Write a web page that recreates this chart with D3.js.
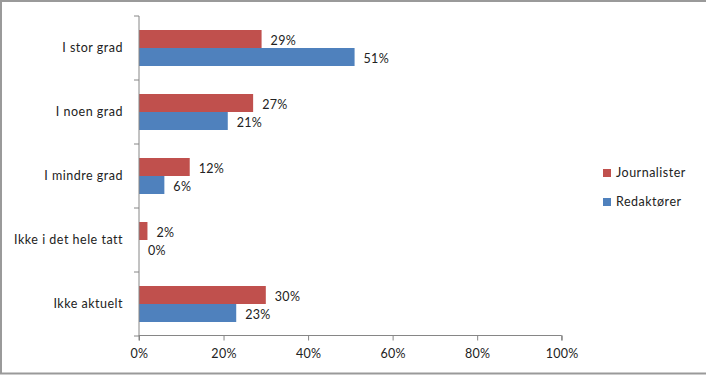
<!DOCTYPE html>
<html><head><meta charset="utf-8">
<script src="https://cdn.jsdelivr.net/npm/d3@7"></script>
<style>
body{margin:0;background:#fff;}
svg text{font-family:Lato,"Open Sans",sans-serif;fill:#222;}
</style></head>
<body><svg id="c" width="706" height="376"></svg>
<script>
const categories = ["I stor grad","I noen grad","I mindre grad","Ikke i det hele tatt","Ikke aktuelt"];
const journalister = [29,27,12,2,30];
const redaktorer = [51,21,6,0,23];
const seriesNames = ["Journalister","Redaktører"];
const seriesColors = ["#C0504D","#4F81BD"];
const xTicks = [0,20,40,60,80,100];

const svg = d3.select("#c");
// frame
svg.append("line").attr("x1",0).attr("x2",706).attr("y1",1).attr("y2",1).attr("stroke","#9a9a9a").attr("stroke-width",2);
svg.append("line").attr("x1",1).attr("x2",1).attr("y1",0).attr("y2",374).attr("stroke","#9a9a9a").attr("stroke-width",2);
svg.append("line").attr("x1",0).attr("x2",706).attr("y1",373.5).attr("y2",373.5).attr("stroke","#9a9a9a").attr("stroke-width",2);

const x = d3.scaleLinear().domain([0,100]).range([139,561.7]);
const y = d3.scaleBand().domain(categories).range([16,336]).paddingInner(0.4375).paddingOuter(0.21875);
const y2 = d3.scaleBand().domain(seriesNames).range([0,y.bandwidth()]);

const g = svg.append("g");
const data = [journalister, redaktorer];
seriesNames.forEach((s,si)=>{
  g.selectAll(".b"+si).data(categories).enter().append("rect")
    .attr("x",x(0))
    .attr("y",c=>y(c)+y2(s))
    .attr("width",(c,i)=>x(data[si][i])-x(0))
    .attr("height",y2.bandwidth())
    .attr("fill",seriesColors[si]);
  g.selectAll(".l"+si).data(categories).enter().append("text")
    .attr("x",(c,i)=>x(data[si][i])+9)
    .attr("y",c=>y(c)+y2(s)+y2.bandwidth()/2+1.5)
    .attr("dy","0.35em")
    .attr("font-size",12.5)
    .attr("letter-spacing","0.3px")
    .text((c,i)=>data[si][i]+"%");
});

// y axis
const yAxisG = svg.append("g").attr("transform",`translate(${x(0)},0)`);
yAxisG.append("line").attr("x1",0).attr("x2",0).attr("y1",16).attr("y2",336).attr("stroke","#868686");
const tickYs = d3.range(categories.length+1).map(i=>16+i*y.step());
yAxisG.selectAll(".yt").data(tickYs).enter().append("line")
  .attr("x1",-5).attr("x2",0).attr("y1",d=>d).attr("y2",d=>d).attr("stroke","#868686");
yAxisG.selectAll(".yl").data(categories).enter().append("text")
  .attr("x",-16).attr("y",c=>y(c)+y.bandwidth()/2).attr("dy","0.35em")
  .attr("text-anchor","end").attr("font-size",12.5).attr("letter-spacing","0.5px").text(c=>c);

// x axis
const xAxis = d3.axisBottom(x).tickValues(xTicks).tickFormat(d=>d+"%").tickSize(5).tickPadding(9);
const xg = svg.append("g").attr("transform","translate(0,335.5)").call(xAxis);
xg.select(".domain").attr("stroke","#868686").attr("d",`M${x(0)},5V0H${x(100)}V5`);
xg.selectAll(".tick line").attr("stroke","#868686");
xg.selectAll(".tick text").attr("font-size",12.5).attr("fill","#222").attr("letter-spacing","0.3px").attr("font-family","Lato,'Open Sans',sans-serif");

// legend
const leg = svg.append("g");
seriesNames.forEach((s,i)=>{
  const ly = 173 + i*29;
  leg.append("rect").attr("x",603).attr("y",ly-4).attr("width",8).attr("height",8).attr("fill",seriesColors[i]);
  leg.append("text").attr("x",616).attr("y",ly).attr("dy","0.35em").attr("font-size",12.5).attr("letter-spacing","0.5px").text(s);
});
</script></body></html>
